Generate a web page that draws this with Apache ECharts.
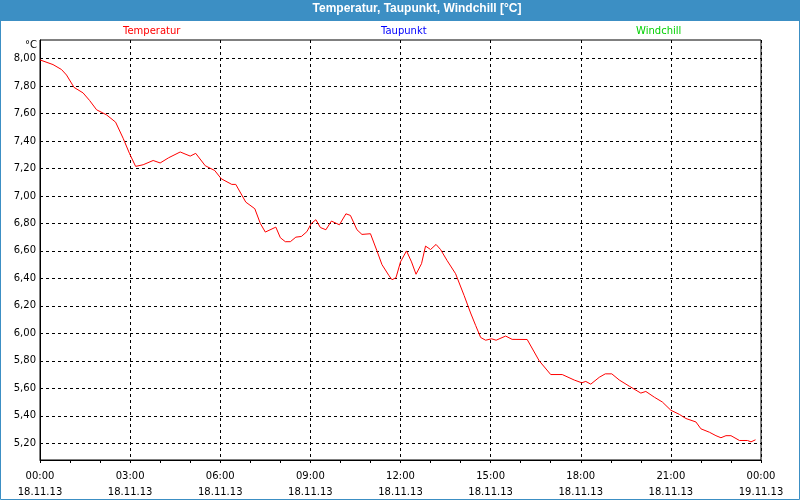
<!DOCTYPE html>
<html>
<head>
<meta charset="utf-8">
<script src="https://cdn.jsdelivr.net/npm/echarts@6/dist/echarts.min.js"></script>
<style>
html,body{margin:0;padding:0;background:#fff;}
#chart{width:800px;height:500px;}
</style>
</head>
<body>
<div id="chart"></div>
<script>
// Minutes since 18.11.13 00:00
const times = [0,26,43,53,68,86,99,113,133,151,166,179,191,206,226,240,257,280,300,311,330,349,362,383,391,411,429,440,450,471,480,490,500,511,522,533,542,551,560,571,582,598,611,620,633,643,660,673,683,697,703,711,720,732,742,751,762,770,780,791,800,813,830,847,860,870,880,890,902,911,930,943,973,997,1020,1043,1067,1082,1090,1100,1117,1129,1142,1157,1177,1200,1210,1227,1243,1260,1277,1290,1310,1320,1337,1350,1360,1370,1380,1397,1413,1420,1429];
const temperatur = [7.99,7.956,7.92,7.88,7.79,7.75,7.695,7.627,7.59,7.537,7.42,7.307,7.215,7.227,7.258,7.24,7.278,7.32,7.29,7.31,7.22,7.185,7.125,7.084,7.084,6.955,6.907,6.80,6.737,6.773,6.696,6.667,6.667,6.70,6.705,6.74,6.80,6.827,6.77,6.754,6.817,6.79,6.87,6.858,6.754,6.72,6.725,6.60,6.50,6.42,6.39,6.405,6.52,6.60,6.52,6.43,6.507,6.635,6.61,6.647,6.61,6.53,6.434,6.276,6.148,6.058,5.97,5.95,5.96,5.95,5.98,5.956,5.955,5.80,5.70,5.70,5.66,5.64,5.65,5.63,5.68,5.705,5.705,5.66,5.615,5.565,5.577,5.535,5.50,5.44,5.41,5.38,5.355,5.305,5.28,5.255,5.24,5.255,5.255,5.22,5.22,5.21,5.225];
const taupunkt = [];
const windchill = [];
const xTickTimes = ['00:00','03:00','06:00','09:00','12:00','15:00','18:00','21:00','00:00'];
const xTickDates = ['18.11.13','18.11.13','18.11.13','18.11.13','18.11.13','18.11.13','18.11.13','18.11.13','19.11.13'];
const yTicks = [5.2,5.4,5.6,5.8,6.0,6.2,6.4,6.6,6.8,7.0,7.2,7.4,7.6,7.8,8.0];

const FONT = 'DejaVu Sans';
const chart = echarts.init(document.getElementById('chart'), null, {renderer:'canvas'});
const legendBase = {top: 26, icon: 'none', itemWidth: 0, itemHeight: 0, itemGap: 0, padding: 0,
  selectedMode: false, textStyle: {fontFamily: FONT, fontSize: 10, padding: 0}};
chart.setOption({
  animation: false,
  backgroundColor: '#ffffff',
  title: {
    text: 'Temperatur, Taupunkt, Windchill [°C]',
    left: 417, top: 3, padding: 0, textAlign: 'center',
    textStyle: {color: '#ffffff', fontFamily: 'Liberation Sans', fontWeight: 'bold', fontSize: 12}
  },
  graphic: [
    {type: 'rect', z: -10, silent: true, shape: {x: 0, y: 0, width: 800, height: 21}, style: {fill: '#3c8fc4'}},
    {type: 'rect', z: -10, silent: true, shape: {x: 0.5, y: 0.5, width: 799, height: 499}, style: {fill: null, stroke: '#3c8fc4', lineWidth: 1}},
    {type: 'text', silent: true, left: 25, top: 40, style: {text: '°C', fontFamily: FONT, fontSize: 10, fill: '#000'}}
  ],
  legend: [
    Object.assign({}, legendBase, {left: 118, data: [{name: 'Temperatur', textStyle: {color: '#ff0000'}}]}),
    Object.assign({}, legendBase, {left: 376, data: [{name: 'Taupunkt', textStyle: {color: '#0000ff'}}]}),
    Object.assign({}, legendBase, {left: 631, data: [{name: 'Windchill', textStyle: {color: '#00d000'}}]})
  ],
  grid: {left: 40, right: 39, top: 40, bottom: 40, show: true, borderColor: '#000', borderWidth: 1, backgroundColor: '#fff'},
  xAxis: {
    type: 'value', min: 0, max: 1440, interval: 180,
    axisLine: {show: true, lineStyle: {color: '#000', width: 1}},
    axisTick: {show: true, length: 3, inside: false, lineStyle: {color: '#000'}},
    minorTick: {show: true, splitNumber: 3, length: 3, lineStyle: {color: '#000'}},
    splitLine: {show: true, lineStyle: {color: '#000', type: [3, 3], width: 1}},
    axisLabel: {
      margin: 8, color: '#000', fontFamily: FONT, fontSize: 10, lineHeight: 16,
      formatter: function (v) { const i = Math.round(v / 180); return xTickTimes[i] + '\n' + xTickDates[i]; }
    }
  },
  yAxis: {
    type: 'value', min: 5.078, max: 8.135,
    axisLine: {show: true, lineStyle: {color: '#000'}},
    axisTick: {show: false, customValues: yTicks},
    splitLine: {show: true, lineStyle: {color: '#000', type: [3, 3], width: 1}},
    axisLabel: {
      customValues: yTicks, margin: 4, color: '#000', fontFamily: FONT, fontSize: 10,
      formatter: function (v) { return v.toFixed(2).replace('.', ','); }
    }
  },
  series: [
    {name: 'Temperatur', type: 'line', showSymbol: false, symbol: 'none', color: '#ff0000',
     lineStyle: {color: '#ff0000', width: 1}, data: times.map((t, i) => [t, temperatur[i]])},
    {name: 'Taupunkt', type: 'line', symbol: 'none', color: '#0000ff', data: taupunkt},
    {name: 'Windchill', type: 'line', symbol: 'none', color: '#00d000', data: windchill}
  ]
});
</script>
</body>
</html>
